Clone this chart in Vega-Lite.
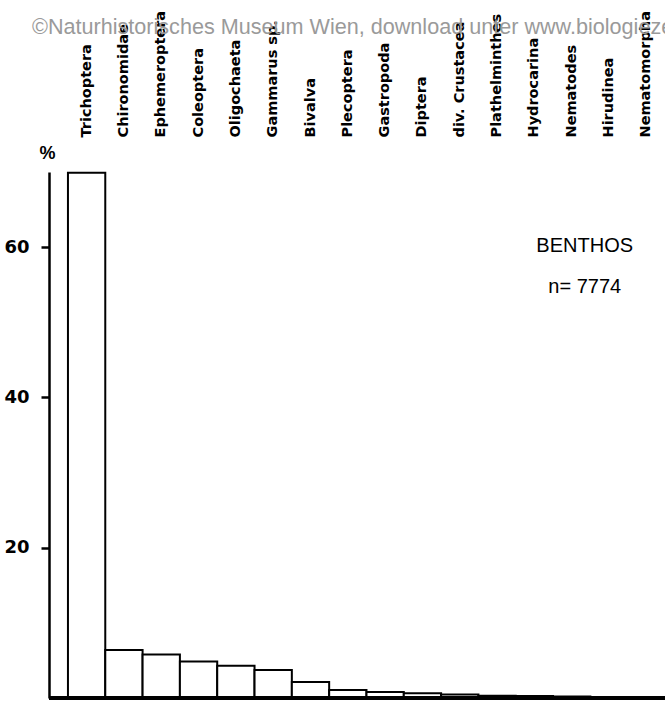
{
  "$schema": "https://vega.github.io/schema/vega-lite/v6.json",
  "width": 616,
  "height": 526,
  "autosize": {"type": "none"},
  "padding": {"left": 49, "top": 172, "right": 0, "bottom": 10},
  "background": "white",
  "config": {"view": {"stroke": null}},
  "title": {
    "text": "©Naturhistorisches Museum Wien, download unter www.biologiezentrum.at",
    "anchor": "start",
    "frame": "group",
    "dx": -17,
    "offset": -45,
    "baseline": "alphabetic",
    "font": "Liberation Sans",
    "fontSize": 21.6,
    "fontWeight": "normal",
    "color": "#9a9a9a"
  },
  "datasets": {
    "taxa": [
      {"taxon": "Trichoptera", "pct": 69.9},
      {"taxon": "Chironomidae", "pct": 6.4},
      {"taxon": "Ephemeroptera", "pct": 5.8},
      {"taxon": "Coleoptera", "pct": 4.85},
      {"taxon": "Oligochaeta", "pct": 4.3},
      {"taxon": "Gammarus sp.", "pct": 3.73},
      {"taxon": "Bivalva", "pct": 2.13},
      {"taxon": "Plecoptera", "pct": 1.07},
      {"taxon": "Gastropoda", "pct": 0.8},
      {"taxon": "Diptera", "pct": 0.62},
      {"taxon": "div. Crustacea", "pct": 0.45},
      {"taxon": "Plathelminthes", "pct": 0.3},
      {"taxon": "Hydrocarina", "pct": 0.25},
      {"taxon": "Nematodes", "pct": 0.2},
      {"taxon": "Hirudinea", "pct": 0.1},
      {"taxon": "Nematomorpha", "pct": 0.05}
    ],
    "notes": [
      {"taxon": "Nematodes", "pct": 59.4, "label": "BENTHOS"},
      {"taxon": "Nematodes", "pct": 53.9, "label": "n= 7774"}
    ]
  },
  "layer": [
    {
      "data": {"name": "taxa"},
      "mark": {"type": "bar", "fill": "white", "stroke": "black", "strokeWidth": 2},
      "encoding": {
        "x": {
          "field": "taxon",
          "type": "nominal",
          "sort": null,
          "scale": {"paddingInner": 0, "paddingOuter": 0.254, "align": 1},
          "axis": {
            "orient": "top",
            "title": null,
            "domain": false,
            "ticks": false,
            "labelAngle": -90,
            "labelAlign": "left",
            "labelBaseline": "middle",
            "labelPadding": 35,
            "labelFont": "DejaVu Sans",
            "labelFontWeight": "bold",
            "labelFontSize": 14.5,
            "labelColor": "black",
            "labelOverlap": false,
            "labelLimit": 300
          }
        },
        "y": {
          "field": "pct",
          "type": "quantitative",
          "scale": {"domain": [0, 70], "nice": false},
          "axis": {
            "values": [20, 40, 60],
            "grid": false,
            "title": "%",
            "titleAngle": 0,
            "titleAlign": "center",
            "titleBaseline": "alphabetic",
            "titleX": -2,
            "titleY": -14,
            "titleFont": "Liberation Sans",
            "titleFontWeight": "bold",
            "titleFontSize": 18,
            "titleColor": "black",
            "domainColor": "black",
            "domainWidth": 2.5,
            "tickColor": "black",
            "tickWidth": 2.5,
            "tickSize": 8,
            "labelPadding": 12,
            "labelFont": "DejaVu Sans",
            "labelFontWeight": "bold",
            "labelFontSize": 18,
            "labelColor": "black"
          }
        }
      }
    },
    {
      "data": {"name": "taxa"},
      "mark": {"type": "rule", "color": "black", "strokeWidth": 3},
      "encoding": {"y": {"datum": 0}}
    },
    {
      "data": {"name": "notes"},
      "mark": {"type": "text", "font": "Liberation Sans", "fontSize": 20, "align": "center", "baseline": "alphabetic", "dx": 13, "color": "black"},
      "encoding": {
        "x": {"field": "taxon", "type": "nominal", "sort": null},
        "y": {"field": "pct", "type": "quantitative"},
        "text": {"field": "label"}
      }
    }
  ]
}
